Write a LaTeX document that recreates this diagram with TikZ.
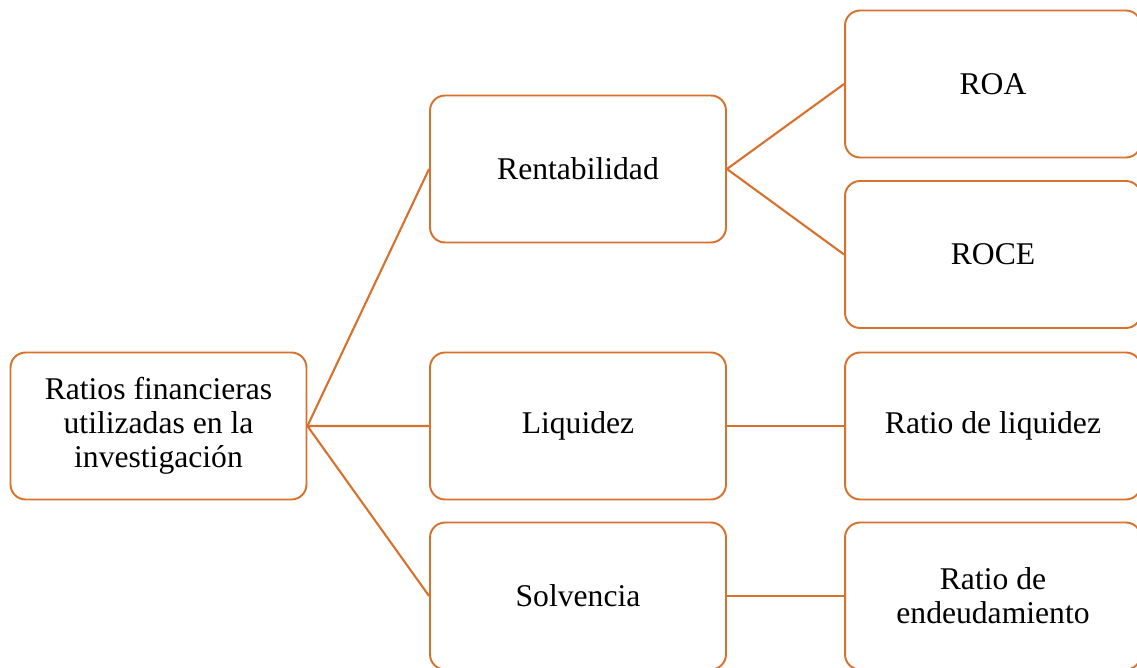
\documentclass[tikz,border=0pt]{standalone}
\usepackage{fontspec}
\setmainfont{Liberation Serif}
\usetikzlibrary{positioning}
\definecolor{ratioorange}{RGB}{214,114,45}

\begin{document}
\begin{tikzpicture}[x=0.02cm, y=-0.02cm,
    caja/.style = {draw = ratioorange, line width = 1.1pt, rounded corners = 0.3cm,
                   fill = white, minimum width = 5.92cm, minimum height = 2.94cm,
                   align = center, font = \fontsize{18}{19.5}\selectfont},
    rama/.style = {ratioorange, line width = 1.2pt}]
            \useasboundingbox (0,0) rectangle (1137,668);
            \clip (0,0) rectangle (1137,668);
        % nodes
            \node [caja] (ratios) at (158.5,426) {Ratios financieras\\utilizadas en la\\investigación};
            \node [caja] (rentab) at (578,169) {Rentabilidad};
            \node [caja] (liquid) at (578,426) {Liquidez};
            \node [caja] (solven) at (578,596) {Solvencia};
            \node [caja] (roa)    at (993,84) {ROA};
            \node [caja] (roce)   at (993,254.5) {ROCE};
            \node [caja] (rliq)   at (993,426) {Ratio de liquidez};
            \node [caja] (rendeu) at (993,596) {Ratio de\\endeudamiento};
        % branches
            \draw [rama] (ratios.east) -- (rentab.west)
                         (ratios.east) -- (liquid.west)
                         (ratios.east) -- (solven.west);
            \draw [rama] (rentab.east) -- (roa.west)
                         (rentab.east) -- (roce.west);
            \draw [rama] (liquid.east) -- (rliq.west);
            \draw [rama] (solven.east) -- (rendeu.west);
        \end{tikzpicture}
\end{document}
